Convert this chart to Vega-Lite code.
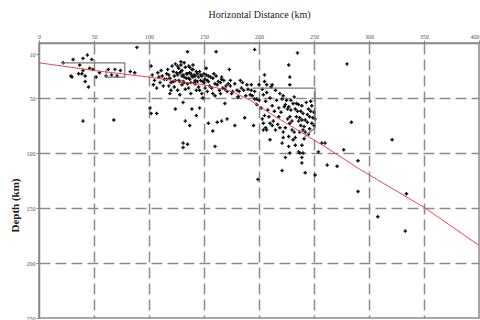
{
  "$schema": "https://vega.github.io/schema/vega-lite/v6.json",
  "width": 440,
  "height": 275,
  "autosize": {"type": "none"},
  "padding": {"left": 39, "top": 43, "right": 1, "bottom": 2},
  "background": "white",
  "config": {"view": {"stroke": "#8a8a8a", "strokeWidth": 1.5}, "font": "Liberation Serif"},
  "datasets": {
    "quakes": [
      {"distance": 89, "depth": 4}, {"distance": 135, "depth": 8}, {"distance": 161, "depth": 8}, {"distance": 196, "depth": 6}, {"distance": 235, "depth": 9},
      {"distance": 22, "depth": 18}, {"distance": 31, "depth": 15}, {"distance": 40, "depth": 14}, {"distance": 44, "depth": 11}, {"distance": 48, "depth": 15},
      {"distance": 37, "depth": 20}, {"distance": 46, "depth": 23}, {"distance": 49, "depth": 24}, {"distance": 40, "depth": 25}, {"distance": 36, "depth": 28},
      {"distance": 39, "depth": 28}, {"distance": 30, "depth": 31}, {"distance": 29, "depth": 30}, {"distance": 42, "depth": 30}, {"distance": 52, "depth": 31},
      {"distance": 42, "depth": 35}, {"distance": 45, "depth": 40}, {"distance": 63, "depth": 24}, {"distance": 69, "depth": 24}, {"distance": 74, "depth": 25},
      {"distance": 66, "depth": 29}, {"distance": 71, "depth": 30}, {"distance": 83, "depth": 26}, {"distance": 87, "depth": 27}, {"distance": 61, "depth": 30},
      {"distance": 55, "depth": 27}, {"distance": 40, "depth": 71}, {"distance": 68, "depth": 70},
      {"distance": 102, "depth": 21}, {"distance": 101, "depth": 59}, {"distance": 102, "depth": 64}, {"distance": 107, "depth": 64},
      {"distance": 124, "depth": 60}, {"distance": 133, "depth": 71}, {"distance": 137, "depth": 75}, {"distance": 131, "depth": 54}, {"distance": 139, "depth": 60},
      {"distance": 143, "depth": 66}, {"distance": 146, "depth": 59}, {"distance": 131, "depth": 91}, {"distance": 135, "depth": 92}, {"distance": 131, "depth": 95},
      {"distance": 154, "depth": 73}, {"distance": 158, "depth": 80}, {"distance": 162, "depth": 72}, {"distance": 166, "depth": 71}, {"distance": 171, "depth": 69},
      {"distance": 169, "depth": 55}, {"distance": 178, "depth": 75}, {"distance": 187, "depth": 68}, {"distance": 160, "depth": 94}, {"distance": 149, "depth": 50},
      {"distance": 181, "depth": 49}, {"distance": 195, "depth": 75}, {"distance": 204, "depth": 79}, {"distance": 210, "depth": 88}, {"distance": 173, "depth": 24},
      {"distance": 166, "depth": 31}, {"distance": 174, "depth": 34}, {"distance": 183, "depth": 34}, {"distance": 193, "depth": 38}, {"distance": 205, "depth": 29},
      {"distance": 207, "depth": 38}, {"distance": 212, "depth": 38}, {"distance": 228, "depth": 31}, {"distance": 228, "depth": 38}, {"distance": 227, "depth": 20},
      {"distance": 280, "depth": 19}, {"distance": 284, "depth": 72},
      {"distance": 204, "depth": 73}, {"distance": 207, "depth": 79}, {"distance": 221, "depth": 91}, {"distance": 227, "depth": 94}, {"distance": 231, "depth": 88},
      {"distance": 233, "depth": 93}, {"distance": 236, "depth": 99}, {"distance": 237, "depth": 100}, {"distance": 239, "depth": 104}, {"distance": 239, "depth": 109},
      {"distance": 224, "depth": 104}, {"distance": 221, "depth": 116}, {"distance": 242, "depth": 118}, {"distance": 251, "depth": 120}, {"distance": 199, "depth": 124},
      {"distance": 262, "depth": 111}, {"distance": 271, "depth": 112}, {"distance": 257, "depth": 91}, {"distance": 260, "depth": 91}, {"distance": 277, "depth": 97},
      {"distance": 254, "depth": 99}, {"distance": 228, "depth": 100}, {"distance": 222, "depth": 86}, {"distance": 239, "depth": 93}, {"distance": 240, "depth": 100},
      {"distance": 290, "depth": 107}, {"distance": 290, "depth": 135}, {"distance": 308, "depth": 158}, {"distance": 334, "depth": 137}, {"distance": 333, "depth": 171},
      {"distance": 321, "depth": 88},
      {"distance": 103, "depth": 29}, {"distance": 105, "depth": 34}, {"distance": 108, "depth": 27}, {"distance": 110, "depth": 36}, {"distance": 112, "depth": 30},
      {"distance": 104, "depth": 38}, {"distance": 107, "depth": 41}, {"distance": 111, "depth": 25}, {"distance": 114, "depth": 33}, {"distance": 113, "depth": 39},
      {"distance": 109, "depth": 31}, {"distance": 116, "depth": 28},
      {"distance": 117, "depth": 24}, {"distance": 118, "depth": 29}, {"distance": 119, "depth": 32}, {"distance": 120, "depth": 36}, {"distance": 121, "depth": 21},
      {"distance": 122, "depth": 26}, {"distance": 123, "depth": 30}, {"distance": 124, "depth": 34}, {"distance": 118, "depth": 39}, {"distance": 120, "depth": 43},
      {"distance": 122, "depth": 35}, {"distance": 124, "depth": 19}, {"distance": 125, "depth": 27}, {"distance": 116, "depth": 33}, {"distance": 119, "depth": 46},
      {"distance": 123, "depth": 40},
      {"distance": 126, "depth": 21}, {"distance": 127, "depth": 23}, {"distance": 128, "depth": 27}, {"distance": 129, "depth": 26}, {"distance": 130, "depth": 30},
      {"distance": 131, "depth": 35}, {"distance": 132, "depth": 36}, {"distance": 133, "depth": 42}, {"distance": 126, "depth": 29}, {"distance": 127, "depth": 34},
      {"distance": 128, "depth": 35}, {"distance": 129, "depth": 20}, {"distance": 130, "depth": 25}, {"distance": 131, "depth": 29}, {"distance": 132, "depth": 31},
      {"distance": 133, "depth": 22}, {"distance": 134, "depth": 28}, {"distance": 135, "depth": 28}, {"distance": 126, "depth": 43}, {"distance": 128, "depth": 47},
      {"distance": 130, "depth": 38}, {"distance": 134, "depth": 32}, {"distance": 135, "depth": 37}, {"distance": 132, "depth": 18}, {"distance": 129, "depth": 17},
      {"distance": 136, "depth": 21}, {"distance": 137, "depth": 22}, {"distance": 138, "depth": 28}, {"distance": 139, "depth": 30}, {"distance": 140, "depth": 31},
      {"distance": 141, "depth": 36}, {"distance": 142, "depth": 37}, {"distance": 143, "depth": 43}, {"distance": 136, "depth": 32}, {"distance": 137, "depth": 33},
      {"distance": 138, "depth": 36}, {"distance": 139, "depth": 24}, {"distance": 140, "depth": 24}, {"distance": 141, "depth": 29}, {"distance": 142, "depth": 30},
      {"distance": 143, "depth": 26}, {"distance": 144, "depth": 28}, {"distance": 145, "depth": 31}, {"distance": 136, "depth": 41}, {"distance": 138, "depth": 46},
      {"distance": 140, "depth": 20}, {"distance": 144, "depth": 35}, {"distance": 145, "depth": 40}, {"distance": 137, "depth": 27}, {"distance": 142, "depth": 34},
      {"distance": 146, "depth": 26}, {"distance": 147, "depth": 29}, {"distance": 148, "depth": 30}, {"distance": 149, "depth": 35}, {"distance": 150, "depth": 36},
      {"distance": 151, "depth": 41}, {"distance": 152, "depth": 29}, {"distance": 153, "depth": 34}, {"distance": 154, "depth": 35}, {"distance": 146, "depth": 43},
      {"distance": 148, "depth": 46}, {"distance": 150, "depth": 28}, {"distance": 152, "depth": 23}, {"distance": 154, "depth": 30}, {"distance": 155, "depth": 39},
      {"distance": 147, "depth": 34}, {"distance": 151, "depth": 33}, {"distance": 153, "depth": 44},
      {"distance": 156, "depth": 31}, {"distance": 158, "depth": 32}, {"distance": 160, "depth": 37}, {"distance": 162, "depth": 38}, {"distance": 164, "depth": 43},
      {"distance": 157, "depth": 41}, {"distance": 159, "depth": 28}, {"distance": 161, "depth": 30}, {"distance": 163, "depth": 35}, {"distance": 165, "depth": 36},
      {"distance": 167, "depth": 41}, {"distance": 169, "depth": 42}, {"distance": 158, "depth": 46}, {"distance": 166, "depth": 33}, {"distance": 168, "depth": 34},
      {"distance": 170, "depth": 39}, {"distance": 160, "depth": 48}, {"distance": 165, "depth": 46},
      {"distance": 172, "depth": 37}, {"distance": 174, "depth": 39}, {"distance": 176, "depth": 44}, {"distance": 178, "depth": 37}, {"distance": 180, "depth": 43},
      {"distance": 182, "depth": 44}, {"distance": 184, "depth": 41}, {"distance": 186, "depth": 43}, {"distance": 188, "depth": 48}, {"distance": 190, "depth": 42},
      {"distance": 192, "depth": 47}, {"distance": 194, "depth": 48}, {"distance": 175, "depth": 46}, {"distance": 185, "depth": 36}, {"distance": 189, "depth": 38},
      {"distance": 193, "depth": 43}, {"distance": 171, "depth": 44}, {"distance": 181, "depth": 49}, {"distance": 196, "depth": 44}, {"distance": 198, "depth": 51},
      {"distance": 200, "depth": 38}, {"distance": 203, "depth": 42}, {"distance": 207, "depth": 45}, {"distance": 211, "depth": 40}, {"distance": 215, "depth": 43},
      {"distance": 219, "depth": 46}, {"distance": 205, "depth": 35},
      {"distance": 196, "depth": 51}, {"distance": 198, "depth": 56}, {"distance": 200, "depth": 52}, {"distance": 202, "depth": 59}, {"distance": 204, "depth": 47},
      {"distance": 206, "depth": 53}, {"distance": 208, "depth": 61}, {"distance": 210, "depth": 50}, {"distance": 212, "depth": 57}, {"distance": 214, "depth": 62},
      {"distance": 205, "depth": 66}, {"distance": 209, "depth": 67}, {"distance": 213, "depth": 71}, {"distance": 216, "depth": 52}, {"distance": 218, "depth": 59},
      {"distance": 220, "depth": 63}, {"distance": 222, "depth": 48}, {"distance": 224, "depth": 56}, {"distance": 226, "depth": 60}, {"distance": 228, "depth": 67},
      {"distance": 230, "depth": 71}, {"distance": 217, "depth": 74}, {"distance": 219, "depth": 77}, {"distance": 221, "depth": 51}, {"distance": 223, "depth": 58},
      {"distance": 225, "depth": 52}, {"distance": 227, "depth": 58}, {"distance": 229, "depth": 61}, {"distance": 231, "depth": 55}, {"distance": 233, "depth": 60},
      {"distance": 235, "depth": 62}, {"distance": 237, "depth": 68}, {"distance": 239, "depth": 70}, {"distance": 241, "depth": 76}, {"distance": 232, "depth": 49},
      {"distance": 234, "depth": 55}, {"distance": 236, "depth": 56}, {"distance": 238, "depth": 62}, {"distance": 240, "depth": 64}, {"distance": 242, "depth": 70},
      {"distance": 244, "depth": 72}, {"distance": 246, "depth": 78}, {"distance": 243, "depth": 54}, {"distance": 245, "depth": 60}, {"distance": 247, "depth": 62},
      {"distance": 249, "depth": 68}, {"distance": 248, "depth": 57}, {"distance": 250, "depth": 63}, {"distance": 226, "depth": 69}, {"distance": 228, "depth": 73},
      {"distance": 230, "depth": 79}, {"distance": 232, "depth": 81}, {"distance": 234, "depth": 67}, {"distance": 236, "depth": 71}, {"distance": 238, "depth": 75},
      {"distance": 240, "depth": 79}, {"distance": 242, "depth": 81}, {"distance": 244, "depth": 65}, {"distance": 246, "depth": 67}, {"distance": 248, "depth": 73},
      {"distance": 250, "depth": 75}, {"distance": 224, "depth": 77}, {"distance": 222, "depth": 81}, {"distance": 215, "depth": 79}, {"distance": 212, "depth": 75},
      {"distance": 227, "depth": 85}, {"distance": 233, "depth": 86}, {"distance": 237, "depth": 81}, {"distance": 241, "depth": 87}, {"distance": 245, "depth": 83},
      {"distance": 239, "depth": 57}, {"distance": 229, "depth": 52}, {"distance": 247, "depth": 53}, {"distance": 251, "depth": 69}, {"distance": 218, "depth": 67},
      {"distance": 210, "depth": 73}, {"distance": 206, "depth": 77}, {"distance": 203, "depth": 69}
    ],
    "slab": [
      {"distance": 0, "depth": 18}, {"distance": 50, "depth": 25}, {"distance": 100, "depth": 31}, {"distance": 150, "depth": 38},
      {"distance": 175, "depth": 44}, {"distance": 192, "depth": 52}, {"distance": 210, "depth": 64}, {"distance": 258, "depth": 93},
      {"distance": 292, "depth": 115}, {"distance": 351, "depth": 150}, {"distance": 400, "depth": 184}
    ],
    "zones": [
      {"zone": "A", "seq": 1, "distance": 21, "depth": 18}, {"zone": "A", "seq": 2, "distance": 78, "depth": 18},
      {"zone": "A", "seq": 3, "distance": 78, "depth": 31}, {"zone": "A", "seq": 4, "distance": 61, "depth": 31},
      {"zone": "A", "seq": 5, "distance": 61, "depth": 24},
      {"zone": "B", "seq": 1, "distance": 194, "depth": 41}, {"zone": "B", "seq": 2, "distance": 251, "depth": 41},
      {"zone": "B", "seq": 3, "distance": 251, "depth": 77}, {"zone": "B", "seq": 4, "distance": 245, "depth": 82},
      {"zone": "B", "seq": 5, "distance": 241, "depth": 86}
    ]
  },
  "layer": [
    {
      "data": {"name": "quakes"},
      "mark": {"type": "point", "shape": "cross", "filled": true, "size": 12, "color": "#111111", "opacity": 1},
      "encoding": {
        "x": {
          "field": "distance", "type": "quantitative",
          "scale": {"domain": [0, 400], "nice": false},
          "axis": {
            "orient": "top", "values": [0, 50, 100, 150, 200, 250, 300, 350, 400],
            "title": "Horizontal Distance (km)", "titleFontSize": 10, "titleFontWeight": "normal", "titleColor": "#222222", "titlePadding": 14,
            "labelFontSize": 6, "labelColor": "#555555", "labelPadding": 1, "labelOverlap": false, "labelBound": false, "labelFlush": false,
            "labelAlign": {"condition": {"test": "datum.value == 400", "value": "right"}, "value": "center"},
            "tickSize": 3, "tickColor": "#888888", "domainColor": "#888888", "domainWidth": 1.5,
            "grid": true, "gridColor": "#8c8c8c", "gridDash": [11, 5], "gridWidth": 1.5,
            "gridOpacity": {"condition": {"test": "datum.value == 0 || datum.value == 400", "value": 0}, "value": 1}
          }
        },
        "y": {
          "field": "depth", "type": "quantitative",
          "scale": {"domain": [0, 250], "reverse": true, "nice": false},
          "axis": {
            "values": [10, 50, 100, 150, 200, 250],
            "title": "Depth (km)", "titleFontSize": 11, "titleFontWeight": "bold", "titleColor": "#222222", "titleX": -19, "titleY": 162,
            "labelFontSize": 6, "labelColor": "#555555", "labelPadding": 1,
            "tickSize": 3, "tickColor": "#888888", "domainColor": "#888888", "domainWidth": 1.5,
            "grid": true, "gridColor": "#8c8c8c", "gridDash": [11, 5], "gridWidth": 1.5,
            "gridOpacity": {"condition": {"test": "datum.value == 10 || datum.value == 250", "value": 0}, "value": 1}
          }
        }
      }
    },
    {
      "data": {"name": "slab"},
      "mark": {"type": "line", "color": "#e84a4f", "strokeWidth": 1},
      "encoding": {
        "x": {"field": "distance", "type": "quantitative"},
        "y": {"field": "depth", "type": "quantitative"},
        "order": {"field": "distance"}
      }
    },
    {
      "data": {"name": "zones"},
      "mark": {"type": "line", "color": "#7a7a7a", "strokeWidth": 1.2},
      "encoding": {
        "x": {"field": "distance", "type": "quantitative"},
        "y": {"field": "depth", "type": "quantitative"},
        "detail": {"field": "zone"},
        "order": {"field": "seq"}
      }
    }
  ]
}
